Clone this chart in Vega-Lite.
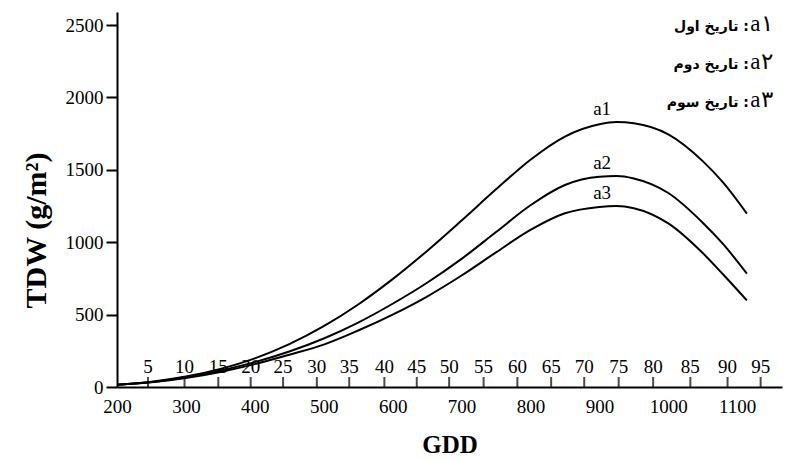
{
  "$schema": "https://vega.github.io/schema/vega-lite/v6.json",
  "autosize": {"type": "none"},
  "width": 665,
  "height": 375,
  "padding": {"left": 117, "top": 12, "right": 4, "bottom": 74},
  "background": "white",
  "config": {
    "view": {"stroke": null},
    "font": "Liberation Serif",
    "axis": {
      "labelFont": "Liberation Serif",
      "labelFontSize": 19,
      "labelColor": "black",
      "titleFont": "Liberation Serif",
      "titleColor": "black",
      "titleFontWeight": "bold",
      "domainColor": "black",
      "domainWidth": 2,
      "tickColor": "black",
      "tickWidth": 2,
      "grid": false
    }
  },
  "datasets": {
    "curves": [
      {"series": "a1", "gdd": 200, "tdw": 15},
      {"series": "a1", "gdd": 250, "tdw": 36},
      {"series": "a1", "gdd": 300, "tdw": 72},
      {"series": "a1", "gdd": 350, "tdw": 125},
      {"series": "a1", "gdd": 400, "tdw": 198},
      {"series": "a1", "gdd": 450, "tdw": 296},
      {"series": "a1", "gdd": 500, "tdw": 420},
      {"series": "a1", "gdd": 550, "tdw": 570},
      {"series": "a1", "gdd": 600, "tdw": 745},
      {"series": "a1", "gdd": 650, "tdw": 940},
      {"series": "a1", "gdd": 700, "tdw": 1150},
      {"series": "a1", "gdd": 750, "tdw": 1365},
      {"series": "a1", "gdd": 800, "tdw": 1570},
      {"series": "a1", "gdd": 850, "tdw": 1730},
      {"series": "a1", "gdd": 900, "tdw": 1815},
      {"series": "a1", "gdd": 925, "tdw": 1830},
      {"series": "a1", "gdd": 950, "tdw": 1822},
      {"series": "a1", "gdd": 1000, "tdw": 1745},
      {"series": "a1", "gdd": 1050, "tdw": 1560},
      {"series": "a1", "gdd": 1080, "tdw": 1410},
      {"series": "a1", "gdd": 1114, "tdw": 1198},
      {"series": "a2", "gdd": 200, "tdw": 15},
      {"series": "a2", "gdd": 250, "tdw": 34},
      {"series": "a2", "gdd": 300, "tdw": 68},
      {"series": "a2", "gdd": 350, "tdw": 114},
      {"series": "a2", "gdd": 400, "tdw": 172},
      {"series": "a2", "gdd": 450, "tdw": 245},
      {"series": "a2", "gdd": 500, "tdw": 335},
      {"series": "a2", "gdd": 550, "tdw": 445},
      {"series": "a2", "gdd": 600, "tdw": 575},
      {"series": "a2", "gdd": 650, "tdw": 720},
      {"series": "a2", "gdd": 700, "tdw": 885},
      {"series": "a2", "gdd": 750, "tdw": 1070},
      {"series": "a2", "gdd": 800, "tdw": 1255},
      {"series": "a2", "gdd": 850, "tdw": 1395},
      {"series": "a2", "gdd": 900, "tdw": 1452},
      {"series": "a2", "gdd": 925, "tdw": 1457},
      {"series": "a2", "gdd": 950, "tdw": 1440},
      {"series": "a2", "gdd": 1000, "tdw": 1340},
      {"series": "a2", "gdd": 1050, "tdw": 1135},
      {"series": "a2", "gdd": 1080, "tdw": 985},
      {"series": "a2", "gdd": 1114, "tdw": 783},
      {"series": "a3", "gdd": 200, "tdw": 15},
      {"series": "a3", "gdd": 250, "tdw": 32},
      {"series": "a3", "gdd": 300, "tdw": 62},
      {"series": "a3", "gdd": 350, "tdw": 104},
      {"series": "a3", "gdd": 400, "tdw": 158},
      {"series": "a3", "gdd": 450, "tdw": 223},
      {"series": "a3", "gdd": 500, "tdw": 293},
      {"series": "a3", "gdd": 550, "tdw": 390},
      {"series": "a3", "gdd": 600, "tdw": 500},
      {"series": "a3", "gdd": 650, "tdw": 625},
      {"series": "a3", "gdd": 700, "tdw": 770},
      {"series": "a3", "gdd": 750, "tdw": 930},
      {"series": "a3", "gdd": 800, "tdw": 1085},
      {"series": "a3", "gdd": 850, "tdw": 1200},
      {"series": "a3", "gdd": 900, "tdw": 1244},
      {"series": "a3", "gdd": 925, "tdw": 1250},
      {"series": "a3", "gdd": 950, "tdw": 1235},
      {"series": "a3", "gdd": 1000, "tdw": 1130},
      {"series": "a3", "gdd": 1050, "tdw": 925},
      {"series": "a3", "gdd": 1080, "tdw": 775},
      {"series": "a3", "gdd": 1114, "tdw": 598}
    ],
    "peaks": [
      {"series": "a1", "gdd": 904, "tdw": 1830},
      {"series": "a2", "gdd": 904, "tdw": 1457},
      {"series": "a3", "gdd": 904, "tdw": 1250}
    ],
    "days": [
      {"day": 5, "gdd": 245},
      {"day": 10, "gdd": 298},
      {"day": 15, "gdd": 347},
      {"day": 20, "gdd": 394},
      {"day": 25, "gdd": 441},
      {"day": 30, "gdd": 490},
      {"day": 35, "gdd": 537},
      {"day": 40, "gdd": 588},
      {"day": 45, "gdd": 635},
      {"day": 50, "gdd": 682},
      {"day": 55, "gdd": 732},
      {"day": 60, "gdd": 781},
      {"day": 65, "gdd": 830},
      {"day": 70, "gdd": 878},
      {"day": 75, "gdd": 928},
      {"day": 80, "gdd": 978},
      {"day": 85, "gdd": 1032},
      {"day": 90, "gdd": 1086},
      {"day": 95, "gdd": 1134}
    ],
    "legend": [
      {"tag": "a۱", "note": "تاریخ اول :", "tdw": 2458},
      {"tag": "a۲", "note": "تاریخ دوم :", "tdw": 2196},
      {"tag": "a۳", "note": "تاریخ سوم :", "tdw": 1933}
    ]
  },
  "layer": [
    {
      "data": {"name": "curves"},
      "mark": {"type": "line", "interpolate": "monotone", "strokeWidth": 2, "color": "black"},
      "encoding": {
        "x": {
          "field": "gdd", "type": "quantitative",
          "scale": {"domain": [200, 1165], "nice": false, "zero": false},
          "axis": {"values": [200, 300, 400, 500, 600, 700, 800, 900, 1000, 1100], "format": "d", "ticks": false, "labelPadding": 10, "title": "GDD", "titleFontSize": 25, "titlePadding": 16, "labelFlush": false}
        },
        "y": {
          "field": "tdw", "type": "quantitative",
          "scale": {"domain": [0, 2590], "nice": false},
          "axis": {"values": [0, 500, 1000, 1500, 2000, 2500], "format": "d", "tickSize": 11, "labelPadding": 3, "title": "TDW (g/m²)", "titleFontSize": 30, "titlePadding": 14, "titleY": 218, "labelFlush": false}
        },
        "detail": {"field": "series"}
      }
    },
    {
      "data": {"name": "days"},
      "mark": {"type": "tick", "orient": "vertical", "size": 10, "thickness": 2, "yOffset": -5, "color": "black"},
      "encoding": {
        "x": {"field": "gdd", "type": "quantitative"},
        "y": {"datum": 0}
      }
    },
    {
      "data": {"name": "days"},
      "mark": {"type": "text", "baseline": "alphabetic", "align": "center", "dy": -14, "fontSize": 19, "font": "Liberation Serif", "color": "black"},
      "encoding": {
        "x": {"field": "gdd", "type": "quantitative"},
        "y": {"datum": 0},
        "text": {"field": "day"}
      }
    },
    {
      "data": {"name": "peaks"},
      "mark": {"type": "text", "baseline": "alphabetic", "align": "center", "dy": -7, "fontSize": 19, "font": "Liberation Serif", "color": "black"},
      "encoding": {
        "x": {"field": "gdd", "type": "quantitative"},
        "y": {"field": "tdw", "type": "quantitative"},
        "text": {"field": "series"}
      }
    },
    {
      "data": {"name": "legend"},
      "mark": {"type": "text", "baseline": "alphabetic", "align": "left", "fontSize": 23, "font": "Liberation Serif", "color": "black"},
      "encoding": {
        "x": {"datum": 1119},
        "y": {"field": "tdw", "type": "quantitative"},
        "text": {"field": "tag"}
      }
    },
    {
      "data": {"name": "legend"},
      "mark": {"type": "text", "baseline": "alphabetic", "align": "right", "fontSize": 14, "fontWeight": "bold", "font": "DejaVu Sans", "color": "black"},
      "encoding": {
        "x": {"datum": 1117},
        "y": {"field": "tdw", "type": "quantitative"},
        "text": {"field": "note"}
      }
    }
  ]
}
